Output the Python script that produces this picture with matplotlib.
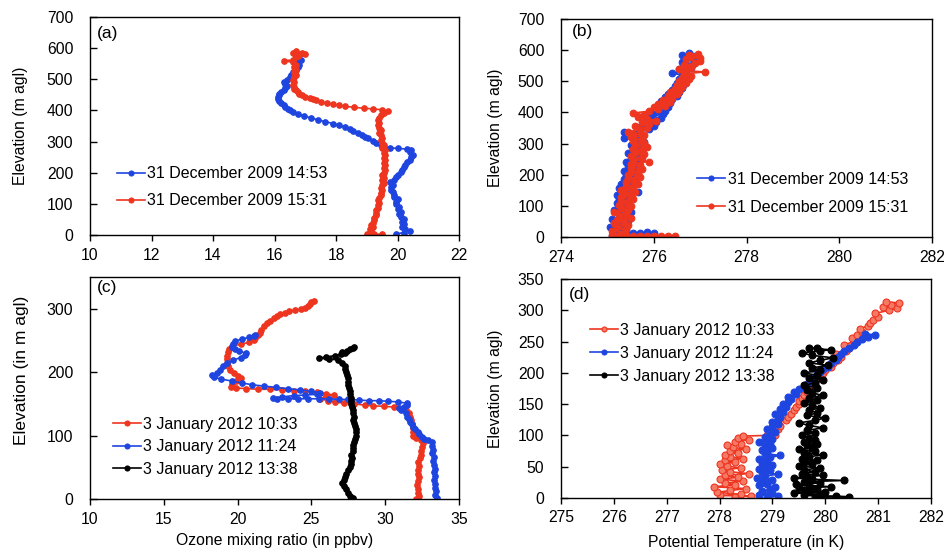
import numpy as np
import matplotlib
matplotlib.use("Agg")
import matplotlib.pyplot as plt

plt.rcParams['font.family'] = ['Liberation Sans', 'DejaVu Sans']

BLUE = '#1f45e0'
RED = '#ee3520'
BLACK = '#000000'

# ---------------- data ----------------
# panel (a): (elevation m, ozone ppbv)
a_blue = [(3,19.95),(8,20.2),(14,20.4),(20,20.25),(27,20.15),(35,20.2),(43,20.15),(50,20.2),(58,20.1),(66,20.05),
          (74,20.1),(82,20.0),(90,20.05),(98,19.95),(106,19.95),(114,20.0),(122,19.9),(130,19.9),(138,19.85),(146,19.8),
          (154,19.8),(162,19.85),(170,19.75),(178,19.9),(186,19.95),(194,20.0),(202,20.1),(210,20.15),(218,20.2),(226,20.25),
          (234,20.3),(242,20.4),(250,20.45),(258,20.5),(266,20.4),(272,20.45),(276,20.3),(278,20.0),(280,19.75),(284,19.55),
          (290,19.45),(297,19.3),(303,19.2),(310,19.05),(316,18.95),(322,18.85),(328,18.7),(334,18.55),(340,18.45),(346,18.3),
          (352,18.1),(358,17.9),(364,17.65),(370,17.4),(376,17.2),(382,16.95),(388,16.75),(394,16.6),(400,16.5),(406,16.45),
          (412,16.35),(418,16.3),(424,16.2),(430,16.15),(436,16.1),(442,16.1),(448,16.15),(454,16.15),(460,16.2),(466,16.3),
          (472,16.35),(478,16.4),(484,16.35),(490,16.3),(498,16.4),(506,16.5),(514,16.55),(522,16.6),(530,16.7),(538,16.75),
          (546,16.8),(554,16.75),(562,16.85),(570,16.7),(578,16.8),(586,16.7)]
a_red = [(2,19.5),(3,19.25),(4,19.0),(8,19.1),(14,19.15),(20,19.1),(26,19.2),(32,19.15),(40,19.2),(48,19.25),
         (56,19.25),(64,19.3),(72,19.3),(80,19.3),(88,19.35),(96,19.35),(104,19.4),(112,19.35),(120,19.4),(128,19.45),
         (136,19.45),(144,19.5),(152,19.45),(160,19.5),(168,19.55),(176,19.5),(184,19.55),(192,19.5),(200,19.55),(208,19.6),
         (216,19.55),(224,19.6),(232,19.55),(240,19.6),(248,19.55),(256,19.6),(264,19.55),(272,19.6),(280,19.5),(288,19.55),
         (296,19.5),(304,19.45),(312,19.5),(320,19.45),(328,19.4),(336,19.45),(344,19.4),(352,19.35),(360,19.4),(368,19.35),
         (376,19.4),(384,19.45),(392,19.55),(398,19.7),(402,19.5),(405,19.2),(407,18.9),(410,18.6),(413,18.3),(416,18.1),
         (420,17.9),(424,17.7),(428,17.5),(432,17.35),(436,17.25),(440,17.15),(444,17.0),(448,16.9),(452,16.8),(458,16.75),
         (464,16.7),(470,16.65),(476,16.65),(482,16.6),(490,16.65),(498,16.6),(506,16.65),(514,16.7),(522,16.65),(530,16.7),
         (538,16.65),(546,16.7),(554,16.6),(560,16.3),(562,16.6),(570,16.7),(578,16.8),(586,16.9),(590,16.7),(584,16.6),
         (576,16.75),(580,17.0)]

# panel (b): (elevation m, potential temperature K)
b_blue = [(13,276.0),(15,275.85),(12,275.7),(14,275.55),(10,275.4),(6,275.25),(3,275.1),
          (10,275.35),(17,275.15),(24,275.4),(31,275.05),(38,275.3),(45,275.2),(52,275.45),(59,275.1),(66,275.35),
          (73,275.25),(80,275.5),(87,275.15),(94,275.3),(101,275.45),(108,275.2),(115,275.4),(122,275.25),(129,275.5),
          (136,275.2),(143,275.65),(150,275.35),(157,275.25),(164,275.5),(171,275.3),(178,275.55),(185,275.35),(192,275.6),
          (199,275.4),(206,275.55),(213,275.35),(220,275.65),(227,275.45),(234,275.6),(241,275.4),(248,275.7),(255,275.5),
          (262,275.65),(269,275.45),(276,275.75),(283,275.55),(290,275.7),(297,275.5),(304,275.8),(311,275.6),(318,275.35),
          (322,275.75),(329,275.6),(336,275.35),(341,275.7),(346,275.9),(352,275.7),(358,276.0),(364,275.8),(370,276.05),
          (376,275.85),(382,276.15),(388,275.95),(394,276.2),(400,276.0),(406,276.25),(412,276.05),(418,276.3),(424,276.1),
          (430,276.35),(436,276.15),(442,276.4),(448,276.25),(454,276.5),(460,276.3),(466,276.55),(472,276.4),(478,276.6),
          (484,276.45),(490,276.65),(496,276.5),(502,276.7),(508,276.55),(514,276.75),(520,276.6),(526,276.4),(532,276.7),
          (538,276.55),(544,276.8),(550,276.65),(556,276.85),(562,276.6),(568,276.9),(574,276.7),(580,276.85),(586,276.6),
          (590,276.75)]
b_red = [(3,276.45),(3,276.3),(3,276.15),(3,276.0),(3,275.85),(4,275.7),(4,275.55),(5,275.4),(6,275.25),(8,275.1),
         (14,275.35),(20,275.1),(26,275.4),(32,275.2),(38,275.45),(44,275.15),(50,275.35),(56,275.2),(62,275.5),(68,275.25),
         (74,275.4),(80,275.15),(86,275.45),(92,275.3),(98,275.5),(104,275.25),(110,275.45),(116,275.3),(122,275.55),(128,275.3),
         (134,275.5),(140,275.35),(146,275.6),(152,275.3),(158,275.55),(164,275.4),(170,275.65),(176,275.4),(182,275.6),(188,275.45),
         (194,275.7),(200,275.45),(206,275.65),(212,275.5),(218,275.75),(224,275.5),(230,275.7),(236,275.5),(242,275.9),(248,275.55),
         (254,275.75),(260,275.5),(266,275.8),(272,275.6),(278,275.75),(284,275.55),(290,275.85),(296,275.6),(302,275.8),(308,275.55),
         (314,275.75),(320,275.5),(326,275.8),(332,275.55),(338,275.45),(344,275.7),(350,275.85),(356,275.6),(362,275.9),(368,275.75),
         (374,276.05),(380,275.85),(386,275.65),(392,275.8),(398,275.55),(404,275.9),(410,276.1),(416,276.0),(422,276.25),(428,276.1),
         (434,276.35),(440,276.2),(446,276.4),(452,276.3),(458,276.5),(464,276.35),(470,276.55),(476,276.45),(482,276.6),(488,276.5),
         (494,276.7),(500,276.55),(506,276.75),(512,276.6),(518,276.8),(524,276.65),(530,277.1),(534,276.7),(540,276.55),(546,276.8),
         (552,276.65),(558,276.9),(564,277.0),(570,276.7),(576,277.0),(582,276.8),(588,276.95),(584,276.75)]

# panel (c): (elevation m, ozone ppbv)
c_red = [(0,32.1),(5,32.3),(10,32.2),(16,32.25),(22,32.15),(28,32.2),(34,32.3),(40,32.2),(46,32.25),(52,32.3),
         (58,32.2),(64,32.35),(70,32.4),(76,32.45),(82,32.5),(88,32.55),(93,32.45),(96,32.1),(100,31.9),(106,31.9),
         (112,31.85),(118,31.8),(124,31.75),(130,31.7),(136,31.6),(140,31.4),(143,31.3),(145,30.6),(146,29.9),(147,29.2),
         (148,28.6),(150,27.9),(151,27.2),(153,26.6),(155,26.1),(158,25.6),(162,26.0),(164,26.5),(166,26.0),(168,25.4),
         (170,24.6),(171,23.8),(172,23.0),(173,22.2),(173,21.4),(174,20.6),(175,19.9),(177,19.55),(181,19.6),(186,19.9),
         (190,20.2),(194,20.0),(199,19.75),(204,19.5),(209,19.35),(214,19.3),(220,19.25),(226,19.3),(232,19.35),(237,19.45),
         (241,19.6),(244,20.2),(247,20.8),(250,21.1),(254,21.2),(258,21.35),(262,21.5),(267,21.6),(272,21.8),(277,22.0),
         (281,22.2),(285,22.45),(288,22.7),(291,22.9),(294,23.2),(296,23.5),(298,23.9),(299,24.3),(301,24.6),(304,24.8),
         (307,24.9),(310,25.0),(312,25.2)]
c_blue = [(1,33.5),(6,33.4),(12,33.45),(18,33.35),(24,33.4),(30,33.3),(36,33.35),(42,33.3),(48,33.35),(54,33.3),
          (60,33.25),(66,33.3),(72,33.2),(78,33.25),(84,33.2),(90,33.15),(93,32.9),(94,32.6),(98,32.5),(102,32.3),
          (106,32.2),(110,32.0),(114,31.9),(118,31.8),(122,31.65),(126,31.6),(130,31.5),(135,31.4),(140,31.1),(143,30.95),
          (145,31.3),(148,31.5),(151,31.45),(153,30.9),(154,30.2),(155,29.6),(155,28.9),(156,28.2),(157,27.5),(157,26.9),
          (158,26.2),(158,25.5),(158,24.8),(158,24.1),(158,23.4),(158,22.7),(159,22.4),(161,23.0),(163,23.8),(164,24.6),
          (165,25.4),(167,25.6),(170,25.0),(172,24.2),(174,23.4),(176,22.6),(178,21.8),(180,21.0),(183,20.3),(186,19.6),
          (189,18.9),(192,18.4),(195,18.25),(199,18.6),(204,18.8),(209,19.0),(214,19.3),(219,19.7),(223,20.2),(227,20.5),
          (230,20.6),(233,20.1),(236,19.8),(240,19.65),(245,19.7),(249,19.8),(252,20.3),(255,20.8),(257,21.1),(259,21.2)]
c_black = [(1,27.8),(5,27.6),(10,27.5),(15,27.35),(20,27.2),(25,27.1),(30,27.2),(35,27.3),(40,27.35),(45,27.5),
           (50,27.6),(55,27.7),(60,27.65),(65,27.75),(70,27.7),(75,27.8),(80,27.85),(85,27.8),(90,27.9),(95,27.95),
           (100,28.0),(105,28.05),(110,28.0),(115,27.95),(120,27.9),(125,27.85),(130,27.9),(135,27.85),(140,27.8),(145,27.75),
           (150,27.7),(155,27.7),(160,27.65),(165,27.6),(170,27.6),(175,27.55),(180,27.5),(185,27.5),(190,27.45),(195,27.4),
           (200,27.35),(205,27.3),(210,27.3),(215,27.1),(219,26.8),(221,26.2),(222,25.5),(224,26.0),(226,26.6),(228,27.0),
           (230,27.3),(232,27.1),(234,27.4),(236,27.6),(238,27.8),(240,27.9)]

# panel (d): (elevation m, potential temperature K)
d_red = [(2,278.3),(3,278.6),(4,278.0),(6,278.4),(9,277.95),(12,278.2),(15,278.5),(18,277.9),(21,278.3),(24,278.1),
         (27,278.45),(30,278.0),(33,278.35),(36,278.1),(39,278.55),(42,278.2),(45,278.05),(48,278.4),(51,278.15),(54,278.0),
         (57,278.3),(60,278.1),(63,278.45),(66,278.2),(69,278.1),(72,278.35),(75,278.2),(78,278.5),(81,278.25),(84,278.15),
         (87,278.4),(90,278.3),(93,278.55),(96,278.35),(99,278.45),(100,278.9),(101,279.05),(105,279.0),(110,279.1),(115,279.15),
         (120,279.1),(125,279.25),(130,279.3),(135,279.35),(140,279.4),(145,279.45),(150,279.5),(155,279.5),(160,279.55),(165,279.6),
         (170,279.65),(175,279.7),(180,279.8),(185,279.75),(190,279.85),(195,279.9),(200,279.95),(205,280.0),(210,280.1),(215,280.15),
         (220,280.25),(225,280.3),(230,280.2),(235,280.4),(240,280.45),(245,280.35),(250,280.55),(255,280.5),(260,280.6),(265,280.7),
         (270,280.65),(275,280.8),(280,280.85),(285,280.9),(290,281.0),(295,280.95),(300,281.2),(303,281.35),(306,281.1),(309,281.25),
         (312,281.4),(313,281.15)]
d_blue = [(1,278.9),(3,279.1),(5,278.75),(8,279.0),(11,278.8),(14,278.95),(17,279.05),(20,278.75),(23,278.9),(26,278.8),
          (29,279.0),(32,278.7),(35,278.85),(38,279.1),(41,278.8),(44,278.95),(47,278.75),(50,278.9),(53,279.0),(56,278.8),
          (59,278.9),(62,278.75),(65,278.95),(68,279.15),(71,278.85),(74,278.9),(77,278.8),(80,279.0),(83,278.85),(86,278.95),
          (89,278.75),(92,278.9),(95,279.0),(98,278.85),(102,278.95),(106,279.05),(110,278.9),(114,279.0),(118,279.1),(122,279.0),
          (126,279.1),(130,279.15),(134,279.05),(138,279.2),(142,279.15),(146,279.25),(150,279.2),(154,279.3),(158,279.35),(162,279.3),
          (166,279.45),(170,279.4),(174,279.5),(178,279.6),(182,279.65),(186,279.7),(190,279.75),(194,279.8),(198,279.85),(202,279.9),
          (206,279.95),(210,280.05),(215,280.1),(220,280.2),(225,280.25),(230,280.3),(235,280.35),(240,280.45),(245,280.55),(250,280.6),
          (254,280.7),(258,280.8),(261,280.95),(262,280.75)]
d_black = [(1,279.8),(2,280.45),(3,280.2),(4,279.6),(6,279.9),(8,279.4),(10,280.0),(12,279.6),(14,279.85),(16,279.5),
           (18,280.1),(20,279.7),(22,279.45),(24,279.9),(26,279.6),(28,280.35),(30,279.75),(32,279.4),(34,279.65),(36,279.95),
           (39,279.55),(42,279.8),(45,279.6),(48,279.9),(51,279.5),(54,279.75),(57,279.6),(60,279.85),(63,279.55),(66,279.7),
           (69,279.95),(72,279.6),(75,279.8),(78,279.5),(81,279.75),(84,279.65),(87,279.85),(90,279.6),(93,279.8),(96,279.7),
           (100,279.55),(104,279.8),(108,279.65),(112,279.95),(116,279.7),(120,279.5),(124,279.8),(128,280.0),(132,279.65),(136,279.85),
           (140,279.7),(144,279.9),(148,279.75),(152,279.6),(156,279.85),(160,279.7),(164,279.95),(168,279.75),(172,279.65),(176,279.85),
           (180,279.6),(184,279.8),(188,279.95),(192,279.7),(196,279.85),(200,279.6),(204,279.9),(208,279.75),(212,280.05),(216,279.7),
           (220,279.9),(224,280.15),(228,279.75),(232,279.55),(235,279.9),(237,280.1),(239,279.7),(240,279.85)]

labels_ab = ['31 December 2009 14:53', '31 December 2009 15:31']
labels_cd = ['3 January 2012 10:33', '3 January 2012 11:24', '3 January 2012 13:38']

# ---------------- figure ----------------
fig = plt.figure(figsize=(9.44, 5.53), dpi=100)
W, H = 944, 553

def make_ax(l, t, r, b):
    return fig.add_axes([l / W, 1 - b / H, (r - l) / W, (b - t) / H])

ax_a = make_ax(90, 17, 459, 235)
ax_b = make_ax(561, 19, 932, 237)
ax_c = make_ax(90, 277, 459, 499)
ax_d = make_ax(561, 279, 931, 498)

FS = 11.3

def series(ax, data, color, label, mfc=None, ms=4.0):
    e, v = np.array(data).T
    ax.plot(v, e, '-', color=color, lw=1.2, marker='o', ms=ms,
            mfc=mfc if mfc else color, mec=color, mew=0.8, label=label)

def style(ax, xlim, xticks, ylim, yticks):
    ax.set_xlim(*xlim)
    ax.set_ylim(*ylim)
    ax.set_xticks(xticks)
    ax.set_yticks(yticks)
    ax.tick_params(axis='y', direction='in', length=5, width=1, labelsize=FS, pad=12)
    ax.tick_params(axis='x', direction='out', length=4, width=1, labelsize=FS, pad=5)
    for s in ax.spines.values():
        s.set_linewidth(1.0)
        s.set_color('black')

# (a)
series(ax_a, a_blue, BLUE, labels_ab[0])
series(ax_a, a_red, RED, labels_ab[1])
style(ax_a, (10, 22), range(10, 23, 2), (0, 700), range(0, 701, 100))
# (b)
series(ax_b, b_blue, BLUE, labels_ab[0], ms=4.8)
series(ax_b, b_red, RED, labels_ab[1], ms=4.8)
style(ax_b, (274, 282), range(274, 283, 2), (0, 700), range(0, 701, 100))
# (c)
series(ax_c, c_red, RED, labels_cd[0])
series(ax_c, c_blue, BLUE, labels_cd[1])
series(ax_c, c_black, BLACK, labels_cd[2])
style(ax_c, (10, 35), range(10, 36, 5), (0, 350), range(0, 301, 100))
# (d)
series(ax_d, d_red, RED, labels_cd[0], mfc='#f57a66', ms=5.0)
series(ax_d, d_blue, BLUE, labels_cd[1], ms=5.0)
series(ax_d, d_black, BLACK, labels_cd[2], ms=5.0)
style(ax_d, (275, 282), range(275, 283, 1), (0, 350), range(0, 351, 50))

# panel letters
for ax, txt, x, y in [(ax_a, '(a)', 0.018, 0.96), (ax_b, '(b)', 0.03, 0.975),
                      (ax_c, '(c)', 0.018, 0.985), (ax_d, '(d)', 0.02, 0.965)]:
    ax.text(x, y, txt, transform=ax.transAxes, fontsize=12.5, ha='left', va='top')

# legends
def leg(ax, x, y, spacing):
    lg = ax.legend(loc='upper left', bbox_to_anchor=(x, y), frameon=False, fontsize=11.5,
                   handlelength=1.75, handletextpad=0.15, borderpad=0, borderaxespad=0,
                   labelspacing=spacing, numpoints=1)
    for h in lg.legend_handles:
        h.set_markersize(3.6)

leg(ax_a, 0.073, 0.316, 0.75)
leg(ax_b, 0.367, 0.30, 0.83)
leg(ax_c, 0.062, 0.371, 0.47)
leg(ax_d, 0.078, 0.80, 0.5)

# axis labels
ax_a.set_ylabel('Elevation (m agl)', fontsize=FS)
ax_b.set_ylabel('Elevation (m agl)', fontsize=FS)
ax_c.set_ylabel('Elevation (in m agl)', fontsize=12.5)
ax_d.set_ylabel('Elevation (m agl)', fontsize=FS)
ax_a.yaxis.set_label_coords((28 - 90) / 369, 0.5)
ax_b.yaxis.set_label_coords((503 - 561) / 371, 0.5)
ax_c.yaxis.set_label_coords((29 - 90) / 369, (499 - 370) / 222)
ax_d.yaxis.set_label_coords((503 - 561) / 370, 0.5)

ax_c.set_xlabel('Ozone mixing ratio (in ppbv)', fontsize=FS)
ax_d.set_xlabel('Potential Temperature (in K)', fontsize=FS)
ax_c.xaxis.set_label_coords(0.5, (499 - 533) / 222)
ax_d.xaxis.set_label_coords(0.5, (498 - 535) / 219)

fig.savefig('out.png', dpi=100)
